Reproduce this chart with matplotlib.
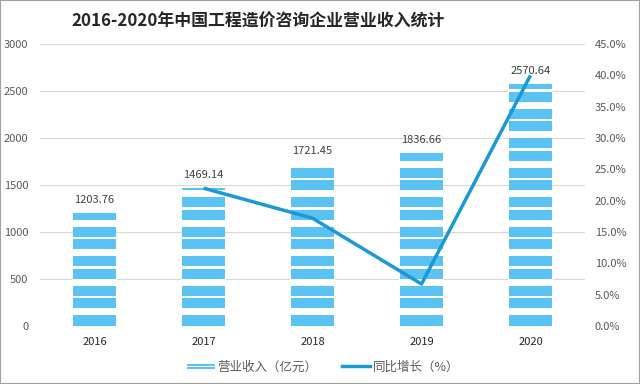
import matplotlib
matplotlib.use("Agg")
import matplotlib.pyplot as plt
from matplotlib.patches import Rectangle
from matplotlib.lines import Line2D
from matplotlib.legend_handler import HandlerBase

plt.rcParams['font.family'] = ['Noto Sans CJK SC', 'DejaVu Sans']

years = ['2016', '2017', '2018', '2019', '2020']
revenue = [1203.76, 1469.14, 1721.45, 1836.66, 2570.64]
growth_years = ['2017', '2018', '2019', '2020']
growth = [22.0, 17.2, 6.7, 40.0]

bar_color = '#5BC3F4'
line_color = '#1A98D8'
bar_w = 0.4

fig = plt.figure(figsize=(6.4, 3.84), dpi=100)
ax_h_px = 282
ax = fig.add_axes([40/640, 1-326/384, 545/640, ax_h_px/384])
ax2 = ax.twinx()

ymax = 3000
x = list(range(len(years)))
bars = ax.bar(x, revenue, width=bar_w, color=bar_color, linewidth=0, zorder=2)

# decorative white stripe pattern (pixel-based period, converted to data units)
px = ymax / ax_h_px
period = 29.5
gaps_px = [(11.0, 18.0), (28.0, 30.5)]
for xi, v in zip(x, revenue):
    k = 0
    while k * period * px < v:
        for g0, g1 in gaps_px:
            y0 = (g0 + k * period) * px
            y1 = min((g1 + k * period) * px, v)
            if y0 < v:
                ax.add_patch(Rectangle((xi - bar_w/2 - 0.01, y0), bar_w + 0.02, y1 - y0,
                                       facecolor='white', edgecolor='none', zorder=2.5))
        k += 1

for xi, v in zip(x, revenue):
    ax.annotate(f'{v:.2f}', (xi, v), xytext=(0, 6), textcoords='offset points',
                ha='center', va='bottom', fontsize=8, color='#404040', zorder=4)

gx = [years.index(y) for y in growth_years]
ax2.plot(gx, growth, color=line_color, linewidth=2.5, zorder=3, solid_capstyle='butt')

ax.set_xlim(-0.5, 4.5)
ax.set_ylim(0, ymax)
ax.set_yticks(range(0, 3001, 500))
ax2.set_ylim(0, 45)
ax2.set_yticks([i * 5 for i in range(10)])
ax2.set_yticklabels([f'{i*5:.1f}%' for i in range(10)])

ax.set_xticks(x)
ax.set_xticklabels(years, fontsize=8, color='#262626')
ax.tick_params(axis='y', labelsize=8, colors='#595959', length=0, pad=8.5)
ax2.tick_params(axis='y', labelsize=8, colors='#595959', length=0, pad=7)
ax.tick_params(axis='x', length=0, pad=8)
for a in (ax, ax2):
    for s in a.spines.values():
        s.set_visible(False)
ax.grid(axis='y', color='#D9D9D9', linewidth=0.8, zorder=0)
ax.set_axisbelow(True)

fig.text(0.403, 1-22/384, '2016-2020年中国工程造价咨询企业营业收入统计', ha='center', va='center',
         fontsize=12.2, fontweight='bold', color='#262626')


class StripeHandler(HandlerBase):
    def create_artists(self, legend, orig_handle, xdescent, ydescent, width, height,
                       fontsize, trans):
        cy = height / 2 - ydescent
        th = height * 0.22
        gap = height * 0.14
        r1 = Rectangle((-xdescent, cy + gap / 2), width, th, facecolor=bar_color,
                       edgecolor='none', transform=trans)
        r2 = Rectangle((-xdescent, cy - gap / 2 - th), width, th, facecolor=bar_color,
                       edgecolor='none', transform=trans)
        return [r1, r2]


bar_handle = Rectangle((0, 0), 1, 1, facecolor=bar_color)
line_handle = Line2D([0], [0], color=line_color, linewidth=2.5)
fig.legend([bar_handle, line_handle], ['营业收入（亿元）', '同比增长（%）'], loc='center',
           bbox_to_anchor=(0.505, 1-367/384),
           handler_map={Rectangle: StripeHandler()},
           ncol=2, frameon=False, fontsize=9, handlelength=2.2, columnspacing=2.0,
           labelcolor='#595959', handletextpad=0.2)

fig.patches.append(Rectangle((0, 0), 1, 1, transform=fig.transFigure, fill=False,
                             edgecolor='#A0A0A0', linewidth=1.5))
fig.savefig('out.png', dpi=100)
